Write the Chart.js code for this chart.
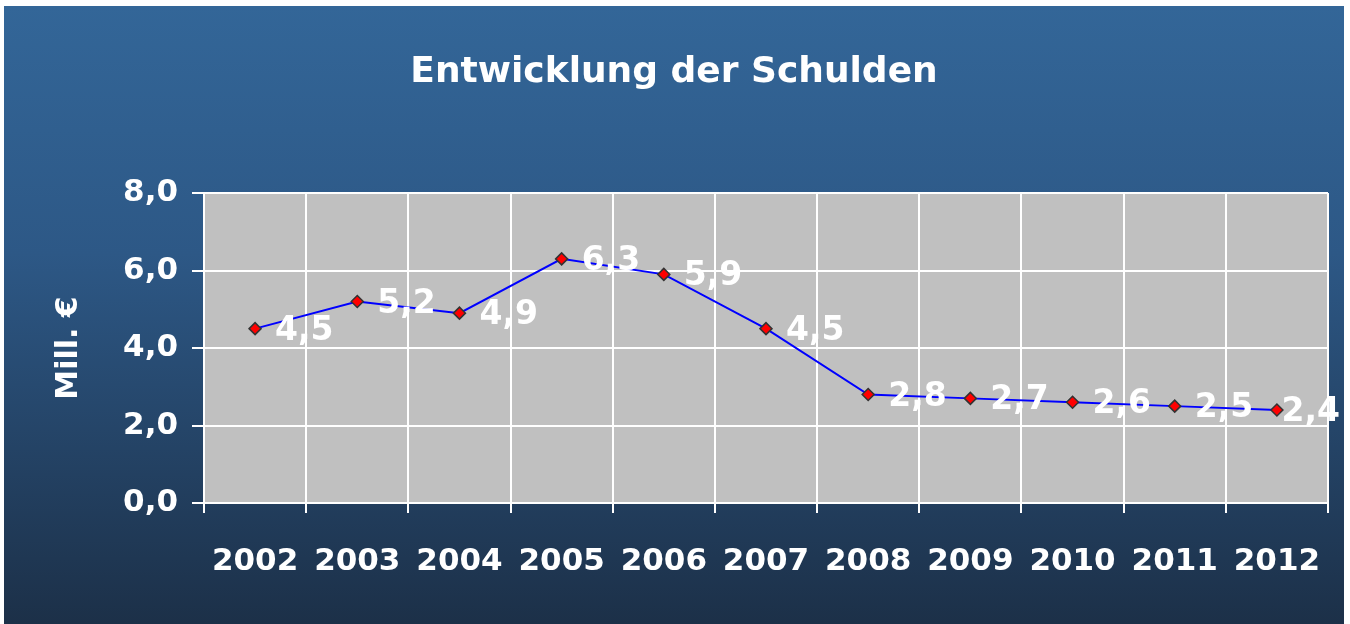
<!DOCTYPE html>
<html>
<head>
<meta charset="utf-8">
<script src="https://cdn.jsdelivr.net/npm/chart.js@4/dist/chart.umd.min.js"></script>
<style>
  body { margin: 0; background: #fff; }
  #box {
    position: absolute; left: 4px; top: 6px; width: 1340px; height: 618px;
    background: linear-gradient(to bottom, #336698 0%, #2d5886 40%, #1c3048 100%);
  }
</style>
</head>
<body>
<div id="box"><canvas id="myChart" width="1340" height="618"></canvas></div>
<script>
const years = ["2002","2003","2004","2005","2006","2007","2008","2009","2010","2011","2012"];
const debts = [4.5, 5.2, 4.9, 6.3, 5.9, 4.5, 2.8, 2.7, 2.6, 2.5, 2.4];
const yTicks = [0, 2, 4, 6, 8];

const font = "'DejaVu Sans', sans-serif";
const comma = v => v.toFixed(1).replace(".", ",");

// title and point labels drawn by hand
const extras = {
  id: "extras",
  afterDatasetsDraw(c) {
    const ctx = c.ctx;
    ctx.save();
    ctx.fillStyle = "#fff";
    ctx.font = "bold 33px " + font;
    ctx.textAlign = "left";
    ctx.textBaseline = "alphabetic";
    c.getDatasetMeta(0).data.forEach((p, i) => {
      const t = comma(debts[i]);
      const x = Math.min(p.x + 20, c.width - 4 - ctx.measureText(t).width);
      ctx.fillText(t, x, p.y + 11);
    });
    ctx.font = "bold 36px " + font;
    ctx.textAlign = "center";
    ctx.fillText("Entwicklung der Schulden", 670, 76);
    ctx.restore();
  }
};

new Chart(document.querySelector("#myChart").getContext("2d"), {
  type: "line",
  data: {
    labels: years,
    datasets: [{
      data: debts,
      borderColor: "#0000ff",
      borderWidth: 2,
      pointStyle: "rectRot",
      pointRadius: 6,
      pointBackgroundColor: "#ff0000",
      pointBorderColor: "#333333",
      pointBorderWidth: 1.5,
      tension: 0
    }]
  },
  options: {
    responsive: false,
    animation: false,
    layout: { padding: { top: 187, right: 16, left: 0, bottom: 0 } },
    plugins: { legend: { display: false }, tooltip: { enabled: false } },
    scales: {
      x: {
        offset: true,
        grid: { offset: true, color: "#ffffff", lineWidth: 2, tickLength: 10, tickColor: "#ffffff" },
        border: { color: "#ffffff", width: 2 },
        ticks: { color: "#fff", font: { family: font, size: 31, weight: "bold" }, padding: 30, maxRotation: 0 },
        afterFit(s) { s.height = 121; s.paddingLeft = 0; s.paddingRight = 0; }
      },
      y: {
        min: 0, max: 8,
        afterBuildTicks(s) { s.ticks = yTicks.map(v => ({ value: v })); },
        grid: { color: "#ffffff", lineWidth: 2, tickLength: 12, tickColor: "#ffffff" },
        border: { color: "#ffffff", width: 2 },
        ticks: { color: "#fff", font: { family: font, size: 31, weight: "bold" }, padding: 14, callback: v => comma(v) },
        title: { display: true, text: "Mill. €", color: "#fff", font: { family: font, size: 30, weight: "bold" }, padding: { top: 47, bottom: 0 } },
        afterFit(s) { s.width = 200; s.paddingTop = 0; s.paddingBottom = 0; }
      }
    }
  },
  plugins: [extras, {
    id: "plotBg",
    beforeDraw(c) {
      const a = c.chartArea;
      c.ctx.save();
      c.ctx.fillStyle = "#c0c0c0";
      c.ctx.fillRect(a.left, a.top, a.right - a.left, a.bottom - a.top);
      c.ctx.restore();
    }
  }]
});
</script>
</body>
</html>
